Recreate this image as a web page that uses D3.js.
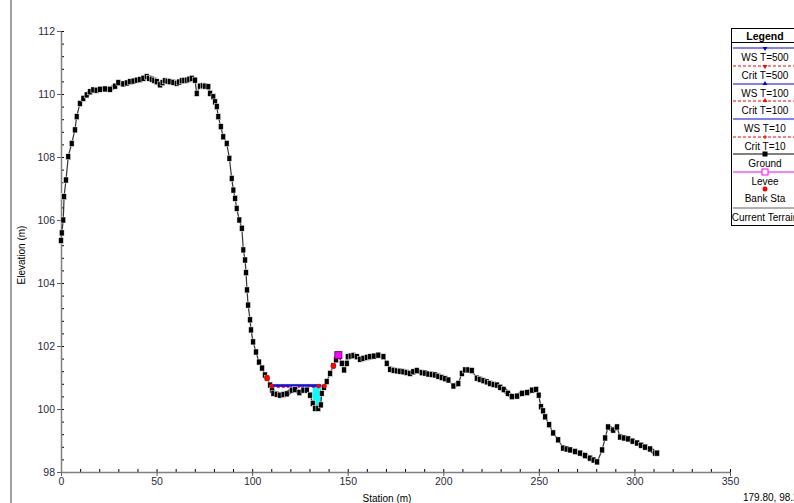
<!DOCTYPE html>
<html>
<head>
<meta charset="utf-8">
<script src="https://cdn.jsdelivr.net/npm/d3@7"></script>
<style>
  body { margin: 0; background: #fff; }
  svg { font-family: Arial, "Liberation Sans", sans-serif; }
</style>
</head>
<body>
<div id="chart"></div>
<script>
// ground profile, station (m)
var groundSta = [0, 0.4, 1.2, 1.6, 2.6, 3.8, 5.6, 7.3, 8.2, 9.9, 11.7, 13.4, 15.2, 16.9, 18.6, 20.4, 23.0, 25.6,
    28.3, 30.0, 32.6, 34.4, 36.1, 37.9, 39.6, 41.4, 43.1, 44.8, 46.1, 47.5, 48.8, 50.1, 51.8, 53.1, 54.4, 55.7,
    57.0, 58.8, 60.5, 61.8, 63.2, 64.5, 65.8, 67.1, 68.4, 70.1, 71.0, 72.7, 74.1, 75.4, 77.1, 78.0, 79.7, 80.6,
    81.5, 82.3, 83.6, 84.9, 86.7, 88.1, 89.3, 90.2, 91.1, 91.9, 93.3, 94.6, 95.4, 96.3, 96.8, 97.3, 97.9, 98.9,
    99.4, 100.5, 102.0, 103.6, 105.2, 106.7, 107.8, 109.4, 110.4, 111.1, 112.8, 114.6, 116.4, 118.1, 120.7, 122.5,
    124.7, 126.8, 128.6, 130.3, 131.7, 132.9, 134.6, 135.9, 136.4, 137.6, 139.0, 140.8, 142.5, 143.9, 145.1,
    146.9, 148.1, 149.5, 150.0, 151.5, 153.0, 154.8, 156.5, 158.2, 160.0, 161.7, 163.8, 166.0, 168.7, 170.4,
    172.2, 174.0, 175.7, 177.4, 179.1, 180.8, 182.6, 184.3, 186.1, 188.7, 190.5, 192.2, 194.0, 195.7, 197.4,
    199.2, 201.0, 202.7, 205.3, 207.9, 209.7, 211.4, 213.1, 214.9, 217.5, 219.2, 221.0, 222.7, 224.5, 226.3,
    228.0, 229.8, 231.6, 233.8, 235.9, 238.6, 241.2, 243.8, 246.5, 248.6, 249.9, 251.1, 252.2, 253.3, 255.4,
    257.5, 260.1, 262.7, 264.5, 266.4, 269.0, 271.6, 274.2, 276.8, 278.6, 280.5, 283.1, 284.7, 286.2, 288.9,
    290.9, 292.5, 294.6, 296.7, 299.0, 301.4, 303.5, 305.6, 308.2, 310.8, 311.9];
// ground profile, elevation (m)
var groundElev = [105.35, 105.59, 106.0, 106.74, 107.27, 108.01, 108.43, 108.86, 109.28, 109.7, 109.86, 109.97, 110.07,
    110.13, 110.12, 110.15, 110.16, 110.15, 110.25, 110.36, 110.32, 110.35, 110.39, 110.41, 110.44, 110.46, 110.5,
    110.55, 110.5, 110.47, 110.43, 110.39, 110.29, 110.36, 110.42, 110.41, 110.39, 110.37, 110.34, 110.38, 110.42,
    110.43, 110.44, 110.47, 110.5, 110.44, 110.02, 110.25, 110.26, 110.25, 110.23, 110.02, 109.91, 109.75, 109.6,
    109.28, 108.96, 108.64, 108.43, 107.96, 107.32, 106.95, 106.69, 106.37, 106.0, 105.74, 105.05, 104.73, 104.33,
    103.78, 103.3, 102.83, 102.51, 102.13, 101.81, 101.49, 101.3, 101.08, 100.98, 100.76, 100.6, 100.5, 100.47,
    100.44, 100.46, 100.48, 100.6, 100.62, 100.52, 100.6, 100.6, 100.44, 100.18, 100.02, 100.02, 100.13, 100.5,
    100.69, 100.87, 101.13, 101.37, 101.56, 101.71, 101.45, 101.24, 101.45, 101.66, 101.68, 101.7, 101.66, 101.58,
    101.61, 101.64, 101.66, 101.68, 101.71, 101.66, 101.45, 101.26, 101.23, 101.21, 101.2, 101.18, 101.16, 101.13,
    101.18, 101.22, 101.15, 101.14, 101.11, 101.1, 101.08, 101.04, 101.0, 100.96, 100.92, 100.73, 100.81, 101.13,
    101.24, 101.24, 101.22, 100.98, 100.94, 100.9, 100.86, 100.81, 100.78, 100.76, 100.69, 100.62, 100.5, 100.39,
    100.41, 100.5, 100.52, 100.6, 100.62, 100.44, 100.07, 99.94, 99.75, 99.5, 99.24, 99.02, 98.76, 98.73, 98.7,
    98.65, 98.6, 98.52, 98.44, 98.38, 98.32, 98.7, 99.08, 99.43, 99.33, 99.43, 99.11, 99.08, 99.05, 98.98, 98.92,
    98.85, 98.79, 98.73, 98.6, 98.6];

// water surfaces
var wsNames = ["WS T=500", "Crit T=500", "WS T=100", "Crit T=100", "WS T=10", "Crit T=10"];
var wsElev = [100.77, 100.73, 100.75, 100.71, 100.72, 100.69];
var wsLeft = [110.0, 110.1, 110.1, 110.2, 110.2, 110.3];
var wsRight = [138.0, 137.9, 137.9, 137.8, 137.8, 137.7];
// visible wetted pocket (m)
var fillLeft = 130.6, fillRight = 137.0;

var bankSta = [107.8, 142.5];
var bankElev = [100.98, 101.37];
var leveeSta = [145.1];
var leveeElev = [101.71];

var xTicks = [0, 50, 100, 150, 200, 250, 300, 350];
var yTicks = [98, 100, 102, 104, 106, 108, 110, 112];

var width = 794, height = 503;
var svg = d3.select("#chart").append("svg").attr("width", width).attr("height", height);

var x = d3.scaleLinear().domain([0, 350]).range([61, 730]);
var y = d3.scaleLinear().domain([98, 112]).range([472, 31]);

// window border on the left
svg.append("line").attr("x1", 11).attr("x2", 11).attr("y1", 0).attr("y2", height)
    .style("stroke", "#a0a0a0").style("stroke-width", 2);

// minor ticks (inside)
svg.append("g").attr("transform", "translate(0,472)")
    .call(d3.axisBottom(x).tickValues(d3.range(0, 351, 10)).tickSize(-3).tickFormat(""))
    .call(function (g) { g.select(".domain").remove(); g.selectAll("line").style("stroke", "#000"); });
svg.append("g").attr("transform", "translate(61,0)")
    .call(d3.axisLeft(y).tickValues(d3.range(98, 112.01, 0.4)).tickSize(-3).tickFormat(""))
    .call(function (g) { g.select(".domain").remove(); g.selectAll("line").style("stroke", "#000"); });

// major axes
var xAxis = svg.append("g").attr("transform", "translate(0,472)")
    .call(d3.axisBottom(x).tickValues(xTicks).tickSize(4).tickSizeOuter(0).tickPadding(2));
var yAxis = svg.append("g").attr("transform", "translate(61,0)")
    .call(d3.axisLeft(y).tickValues(yTicks).tickSize(4).tickSizeOuter(0).tickPadding(2));
[xAxis, yAxis].forEach(function (g) {
    g.select(".domain").style("stroke", "#808080").style("stroke-width", 1.5);
    g.selectAll(".tick line").style("stroke", "#606060");
    g.selectAll("text").style("font-size", "10.5px").style("fill", "#2a2a40").style("font-family", "Arial, 'Liberation Sans', sans-serif");
});

// axis titles
svg.append("text").attr("x", 387).attr("y", 502).attr("text-anchor", "middle")
    .style("font-size", "10px").text("Station (m)");
svg.append("text").attr("transform", "translate(25,255) rotate(-90)").attr("text-anchor", "middle")
    .style("font-size", "10px").text("Elevation (m)");
svg.append("text").attr("x", 743).attr("y", 501).style("font-size", "10px").text("179.80, 98.27");

var ground = groundSta.map(function (s, i) { return { s: s, e: groundElev[i] }; });

// water fill
var wet = ground.filter(function (p) { return p.s >= fillLeft && p.s <= fillRight; });
svg.append("path").datum(wet)
    .attr("d", d3.area()
        .x(function (p) { return x(p.s); })
        .y0(y(wsElev[0]))
        .y1(function (p) { return y(Math.min(p.e, wsElev[0])); }))
    .style("fill", "#00ffff").style("stroke", "none");

// water surface lines
wsNames.forEach(function (name, i) {
    var crit = name.indexOf("Crit") === 0;
    svg.append("line")
        .attr("x1", x(wsLeft[i])).attr("x2", x(wsRight[i]))
        .attr("y1", y(wsElev[i])).attr("y2", y(wsElev[i]))
        .style("stroke", crit ? "#ff0000" : "#0000ff")
        .style("stroke-width", 1)
        .style("stroke-dasharray", crit ? "3,2" : null);
});

// ground line: dense (flat) stretches read as a thick band, steep ones as a thin line
var segs = d3.pairs(ground);
svg.append("g").selectAll("line").data(segs).enter().append("line")
    .attr("x1", function (d) { return x(d[0].s); })
    .attr("y1", function (d) { return y(d[0].e); })
    .attr("x2", function (d) { return x(d[1].s); })
    .attr("y2", function (d) { return y(d[1].e); })
    .style("stroke", function (d) {
        var dx = Math.abs(x(d[1].s) - x(d[0].s)), dy = Math.abs(y(d[1].e) - y(d[0].e));
        return dx >= dy ? "#000" : "#333";
    })
    .style("stroke-width", function (d) {
        var dx = Math.abs(x(d[1].s) - x(d[0].s)), dy = Math.abs(y(d[1].e) - y(d[0].e));
        return dx >= dy ? 4.5 : 1.2;
    });
svg.append("g").selectAll("rect").data(ground).enter().append("rect")
    .attr("x", function (p) { return x(p.s) - 2.4; })
    .attr("y", function (p) { return y(p.e) - 3; })
    .attr("width", 4.8).attr("height", 6)
    .style("fill", "#000").style("stroke", "#fff").style("stroke-width", 0.5);

// crit markers at the ends
[wsLeft[1], wsRight[1], 134.8].forEach(function (s) {
    svg.append("circle").attr("cx", x(s)).attr("cy", y(wsElev[1])).attr("r", 2.2).style("fill", "#ff0000");
});

// bank stations
svg.append("g").selectAll("circle").data(bankSta).enter().append("circle")
    .attr("cx", function (s) { return x(s); })
    .attr("cy", function (s, i) { return y(bankElev[i]); })
    .attr("r", 2.8).style("fill", "#ff0000");

// levee
svg.append("g").selectAll("rect").data(leveeSta).enter().append("rect")
    .attr("x", function (s) { return x(s) - 3.5; })
    .attr("y", function (s, i) { return y(leveeElev[i]) - 3.5; })
    .attr("width", 7).attr("height", 7)
    .style("fill", "#ff00ff").style("stroke", "#800080").style("stroke-width", 1);

// legend
var lg = svg.append("g").style("font-size", "10px");
lg.append("rect").attr("x", 731.5).attr("y", 28.5).attr("width", 70).attr("height", 197)
    .style("fill", "#fff").style("stroke", "#000");
lg.append("text").attr("x", 765).attr("y", 40).attr("text-anchor", "middle")
    .style("font-weight", "bold").style("font-size", "10.5px").text("Legend");
lg.append("line").attr("x1", 731).attr("x2", 794).attr("y1", 42.5).attr("y2", 42.5).style("stroke", "#000");

var legendItems = [
    { name: "WS T=500", color: "#0000ff", dash: null, mark: "tdown" },
    { name: "Crit T=500", color: "#ff0000", dash: "3,2", mark: "tdown" },
    { name: "WS T=100", color: "#0000ff", dash: null, mark: "tup" },
    { name: "Crit T=100", color: "#ff0000", dash: "3,2", mark: "tup" },
    { name: "WS T=10", color: "#0000ff", dash: null, mark: null },
    { name: "Crit T=10", color: "#ff0000", dash: "3,2", mark: "plus" },
    { name: "Ground", color: "#000000", dash: null, mark: "square" },
    { name: "Levee", color: "#ff00ff", dash: null, mark: "open" },
    { name: "Bank Sta", color: null, dash: null, mark: "dot" },
    { name: "Current Terrain", color: "#606060", dash: null, mark: null }
];
var rowY = [48, 66, 84, 101, 119, 137, 154, 172, 189, 208];
legendItems.forEach(function (d, i) {
    var ly = rowY[i];
    if (d.color) {
        lg.append("line").attr("x1", 733).attr("x2", 794).attr("y1", ly).attr("y2", ly)
            .style("stroke", d.color).style("stroke-width", 1).style("stroke-dasharray", d.dash);
    }
    var cx = 765;
    if (d.mark === "tdown") {
        lg.append("path").attr("d", "M" + (cx - 2.5) + "," + (ly - 1) + "L" + (cx + 2.5) + "," + (ly - 1) + "L" + cx + "," + (ly + 3) + "Z")
            .style("fill", d.color);
    } else if (d.mark === "tup") {
        lg.append("path").attr("d", "M" + (cx - 2.5) + "," + (ly + 1) + "L" + (cx + 2.5) + "," + (ly + 1) + "L" + cx + "," + (ly - 3) + "Z")
            .style("fill", d.color);
    } else if (d.mark === "plus") {
        lg.append("path").attr("d", "M" + (cx - 2) + "," + ly + "H" + (cx + 2) + "M" + cx + "," + (ly - 2) + "V" + (ly + 2))
            .style("stroke", d.color);
    } else if (d.mark === "square") {
        lg.append("rect").attr("x", cx - 2.5).attr("y", ly - 2.5).attr("width", 5).attr("height", 5).style("fill", "#000");
    } else if (d.mark === "open") {
        lg.append("rect").attr("x", cx - 3).attr("y", ly - 3).attr("width", 6).attr("height", 6)
            .style("fill", "#fff").style("stroke", d.color);
    } else if (d.mark === "dot") {
        lg.append("circle").attr("cx", cx).attr("cy", ly).attr("r", 2.5).style("fill", "#ff0000");
    }
    lg.append("text").attr("x", 765).attr("y", ly + 13).attr("text-anchor", "middle").text(d.name);
});
</script>
</body>
</html>
